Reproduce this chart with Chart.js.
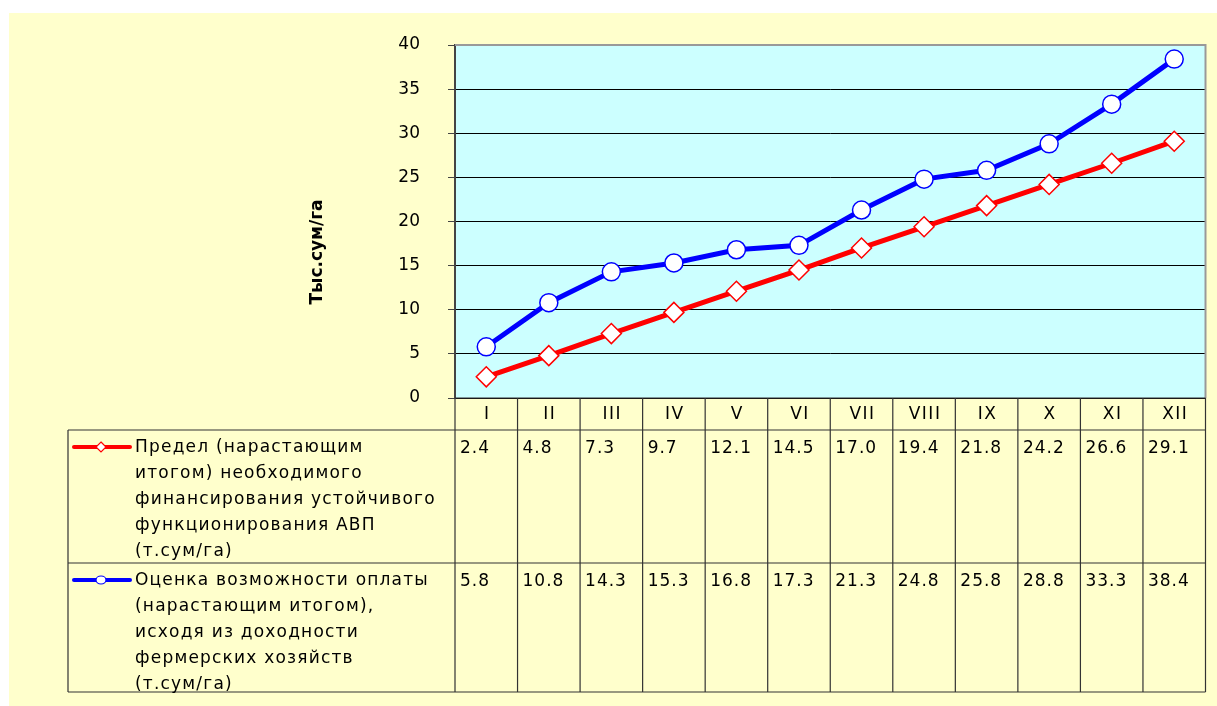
<!DOCTYPE html>
<html>
<head>
<meta charset="utf-8">
<script src="https://cdn.jsdelivr.net/npm/chart.js@4"></script>
<style>
  html, body { margin: 0; padding: 0; background: #fff; }
  #wrap { width: 1217px; height: 706px; }
</style>
</head>
<body>
<div id="wrap"><canvas id="grafico" width="1217" height="706"></canvas></div>
<script>
// Месяцы (категории)
const meses = ["I", "II", "III", "IV", "V", "VI", "VII", "VIII", "IX", "X", "XI", "XII"];

// Серии
const predel = [2.4, 4.8, 7.3, 9.7, 12.1, 14.5, 17.0, 19.4, 21.8, 24.2, 26.6, 29.1];
const ocenka = [5.8, 10.8, 14.3, 15.3, 16.8, 17.3, 21.3, 24.8, 25.8, 28.8, 33.3, 38.4];

// Ось Y
const yMin = 0;
const yMax = 40;
const yStep = 5;
const tituloY = "Тыс.сум/га";

// Подписи легенды в таблице
const leyendaPredel = [
  "Предел (нарастающим",
  "итогом) необходимого",
  "финансирования устойчивого",
  "функционирования АВП",
  "(т.сум/га)",
];
const leyendaOcenka = [
  "Оценка возможности оплаты",
  "(нарастающим итогом),",
  "исходя из доходности",
  "фермерских хозяйств",
  "(т.сум/га)",
];

const FONT = "'DejaVu Sans', Verdana, sans-serif";
const ROJO = "#FF0000";
const AZUL = "#0000FF";

// --- fondo, bordes y tabla de datos ---
const tablaPlugin = {
  id: "tabla",
  beforeDraw(chart) {
    const { ctx, chartArea: a } = chart;
    ctx.save();
    ctx.fillStyle = "#ffffff";
    ctx.fillRect(0, 0, chart.width, chart.height);
    ctx.fillStyle = "#FFFFCC";
    ctx.fillRect(9, 13, chart.width - 9, chart.height - 13);
    ctx.fillStyle = "#CCFFFF";
    ctx.fillRect(a.left, a.top, a.right - a.left, a.bottom - a.top);
    ctx.restore();
  },
  afterDraw(chart) {
    const { ctx, chartArea: a, scales } = chart;
    const x = scales.x;
    const n = meses.length;
    const colW = (a.right - a.left) / n;
    const headTop = a.bottom;
    const headBot = headTop + 32;
    const row1Bot = headBot + 133;
    const row2Bot = row1Bot + 129;
    const legLeft = 68;

    ctx.save();
    // borde gris superior / derecho del área
    ctx.strokeStyle = "#999999";
    ctx.lineWidth = 2;
    ctx.beginPath();
    ctx.moveTo(a.left, a.top);
    ctx.lineTo(a.right, a.top);
    ctx.lineTo(a.right, a.bottom);
    ctx.stroke();

    // líneas de la tabla
    ctx.strokeStyle = "#333333";
    ctx.lineWidth = 1.2;
    ctx.beginPath();
    ctx.moveTo(a.left, headTop); ctx.lineTo(a.right, headTop);
    ctx.moveTo(legLeft, headBot); ctx.lineTo(a.right, headBot);
    ctx.moveTo(legLeft, row1Bot); ctx.lineTo(a.right, row1Bot);
    ctx.moveTo(legLeft, row2Bot); ctx.lineTo(a.right, row2Bot);
    ctx.moveTo(legLeft, headBot); ctx.lineTo(legLeft, row2Bot);
    for (let i = 0; i <= n; i++) {
      const cx = a.left + i * colW;
      ctx.moveTo(cx, headTop); ctx.lineTo(cx, row2Bot);
    }
    ctx.stroke();

    // título del eje Y
    ctx.save();
    ctx.translate(318, 252);
    ctx.rotate(-Math.PI / 2);
    ctx.fillStyle = "#000";
    ctx.font = "bold 17px " + FONT;
    ctx.textAlign = "center";
    ctx.textBaseline = "middle";
    ctx.fillText(tituloY, 0, 0);
    ctx.restore();

    // encabezados
    ctx.fillStyle = "#000";
    ctx.font = "17px " + FONT;
    ctx.letterSpacing = "1.5px";
    ctx.textAlign = "center";
    ctx.textBaseline = "middle";
    meses.forEach((m, i) => {
      ctx.fillText(m, x.getPixelForValue(i) + 1, (headTop + headBot) / 2 + 1);
    });

    // valores
    ctx.textAlign = "left";
    ctx.letterSpacing = "1px";
    const filas = [
      { datos: predel, top: headBot },
      { datos: ocenka, top: row1Bot },
    ];
    filas.forEach((f) => {
      f.datos.forEach((v, i) => {
        ctx.fillText(v.toFixed(1), a.left + i * colW + 5, f.top + 19);
      });
    });

    // leyenda
    ctx.letterSpacing = "1.2px";
    const dibujarLeyenda = (lineas, top, color, estilo) => {
      const ly = top + 18;
      ctx.strokeStyle = color;
      ctx.lineWidth = 4;
      ctx.lineCap = "round";
      ctx.beginPath();
      ctx.moveTo(74, ly - 1); ctx.lineTo(130, ly - 1);
      ctx.stroke();
      ctx.fillStyle = "#fff";
      ctx.lineWidth = 1.2;
      ctx.beginPath();
      if (estilo === "rombo") {
        ctx.moveTo(101, ly - 6); ctx.lineTo(106, ly - 1); ctx.lineTo(101, ly + 4); ctx.lineTo(96, ly - 1);
        ctx.closePath();
      } else {
        ctx.ellipse(101, ly - 1, 5, 4, 0, 0, Math.PI * 2);
      }
      ctx.fill();
      ctx.stroke();
      ctx.fillStyle = "#000";
      lineas.forEach((t, k) => ctx.fillText(t, 135, ly + k * 25.8));
    };
    dibujarLeyenda(leyendaPredel, headBot, ROJO, "rombo");
    dibujarLeyenda(leyendaOcenka, row1Bot, AZUL, "circulo");
    ctx.restore();
  },
};

new Chart(document.getElementById("grafico"), {
  type: "line",
  data: {
    labels: meses,
    datasets: [
      {
        label: leyendaOcenka.join(" "),
        data: ocenka,
        borderColor: AZUL,
        borderWidth: 5,
        pointStyle: "circle",
        pointRadius: 9,
        pointBackgroundColor: "#fff",
        pointBorderColor: AZUL,
        pointBorderWidth: 1.5,
        tension: 0,
      },
      {
        label: leyendaPredel.join(" "),
        data: predel,
        borderColor: ROJO,
        borderWidth: 5,
        pointStyle: "rectRot",
        pointRadius: 10,
        pointBackgroundColor: "#fff",
        pointBorderColor: ROJO,
        pointBorderWidth: 1.5,
        tension: 0,
      },
    ],
  },
  options: {
    responsive: false,
    animation: false,
    devicePixelRatio: 1,
    layout: { padding: { left: 300, top: 45, right: 8, bottom: 308 } },
    plugins: { legend: { display: false }, tooltip: { enabled: false } },
    scales: {
      x: { display: false, offset: true },
      y: {
        min: yMin,
        max: yMax,
        afterFit: (s) => { s.width = 155; },
        ticks: {
          stepSize: yStep,
          color: "#000",
          padding: 28,
          font: { family: FONT, size: 17 },
        },
        grid: { color: "#000", lineWidth: 1, tickLength: 7, tickColor: "#444" },
        border: { color: "#444", width: 2 },
        title: { display: false },
      },
    },
  },
  plugins: [tablaPlugin],
});
</script>
</body>
</html>
